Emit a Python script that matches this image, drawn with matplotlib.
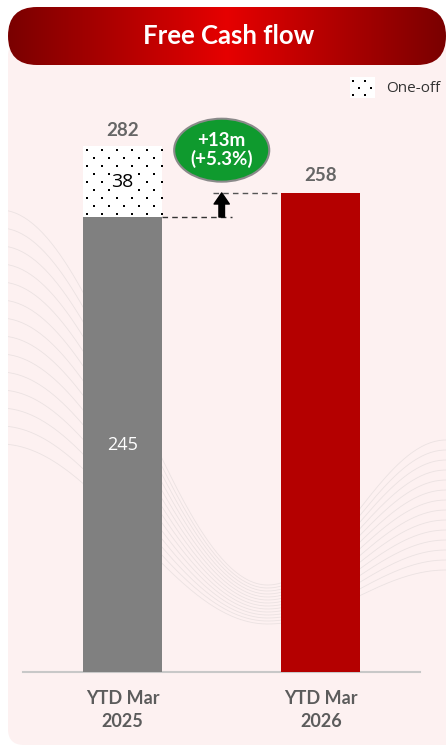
import numpy as np
import matplotlib.pyplot as plt
from matplotlib.patches import FancyBboxPatch, Rectangle, Ellipse
from matplotlib.colors import LinearSegmentedColormap

# chart data
categories = ["YTD Mar\n2025", "YTD Mar\n2026"]
base_values = [245, 258]
one_off_values = [38, 0]
totals = [282, 258]
delta_label = "+13m\n(+5.3%)"
title = "Free Cash flow"
legend_label = "One-off"

W, H = 446, 747
fig = plt.figure(figsize=(W / 100, H / 100), dpi=100)
fig.patch.set_facecolor("white")

# background layer in pixel units (y down)
bg = fig.add_axes([0, 0, 1, 1])
bg.set_xlim(0, W)
bg.set_ylim(H, 0)
bg.axis("off")

panel = FancyBboxPatch((8, 40), 470, 705, boxstyle="round,pad=0,rounding_size=16",
                       fc="#fdf1f1", ec="none", zorder=0)
bg.add_patch(panel)

# faint decorative swirl lines in the background
t = np.linspace(0, 1, 200)
for k in range(14):
    y0 = 210 + k * 18
    ymid = 585 + k * 3
    y1 = 440 + k * 10
    left = ymid + (y0 - ymid) * np.cos(np.pi / 2 * np.clip(t / 0.6, 0, 1)) ** 2
    right = ymid + (y1 - ymid) * np.sin(np.pi / 2 * np.clip((t - 0.6) / 0.4, 0, 1)) ** 2
    yy = np.where(t < 0.6, left, right)
    ln, = bg.plot(t * W, yy, color="#ebe2e2", lw=0.6, zorder=0.5)
    ln.set_clip_path(panel)

# title banner with red gradient
banner = FancyBboxPatch((8, 7), 438, 58, boxstyle="round,pad=0,rounding_size=29",
                        fc="none", ec="none", zorder=1)
bg.add_patch(banner)
cmap = LinearSegmentedColormap.from_list("vf", ["#7a0000", "#e60000", "#7a0000"])
grad = np.linspace(0, 1, 256).reshape(1, -1)
img = bg.imshow(grad, cmap=cmap, extent=(8, 446, 65, 7), aspect="auto", zorder=2)
img.set_clip_path(banner)
bg.set_xlim(0, W)
bg.set_ylim(H, 0)
bg.text(229, 36, title, color="white", fontsize=18.5, fontweight="bold",
        family="Lato", ha="center", va="center", zorder=3)

# baseline
bg.plot([23, 420], [672, 672], color="#c8c8c8", lw=1.5, zorder=1)


def dot_fill(target, clip, x0, y0, w, h, dx=15, dy=8):
    # dotted texture given in pixel coords, drawn on target, clipped to patch
    xs, ys = [], []
    for k, yy in enumerate(np.arange(y0 + dy / 2, y0 + h, dy)):
        start = x0 + (dx / 4 if k % 2 == 0 else dx * 3 / 4)
        for xx in np.arange(start, x0 + w, dx):
            xs.append(xx)
            ys.append(yy)
    sc = target.scatter(xs, ys, s=3, marker="s", color="black", lw=0, zorder=6,
                        transform=bg.transData)
    sc.set_clip_path(clip)


# bar layer
ax = fig.add_axes([0, 75 / H, 1, 600 / H])
ax.patch.set_alpha(0)
ax.set_xlim(-0.617, 1.63)
ax.set_ylim(0, 600 / 1.857)
for s in ax.spines.values():
    s.set_visible(False)
ax.set_yticks([])

x = np.arange(len(categories))
bw = 0.398
ax.bar(x, base_values, width=bw, color=["#808080", "#b40000"], zorder=2)
oneoff = ax.bar(x, one_off_values, bottom=base_values, width=bw, color="white",
                lw=0, zorder=2)

# dots on the one-off segment, placed from its display extent
for p in oneoff.patches:
    if p.get_height() <= 0:
        continue
    (dx0, dy0), (dx1, dy1) = ax.transData.transform(
        [(p.get_x(), p.get_y()), (p.get_x() + p.get_width(), p.get_y() + p.get_height())])
    dot_fill(ax, p, dx0, H - dy1, dx1 - dx0, dy1 - dy0)

ax.set_xticks(x)
ax.set_xticklabels(categories, fontsize=13, fontweight="bold", color="#5c5c5c",
                   family="Lato", linespacing=1.4)
ax.tick_params(axis="x", length=0, pad=13)

for i in x:
    ax.annotate(str(totals[i]), (i, totals[i]), xytext=(0, 12.5), textcoords="offset points",
                ha="center", va="center", fontsize=13.5, fontweight="bold",
                color="#666666", family="Lato")
ax.text(0, base_values[0] / 2, str(base_values[0]), ha="center", va="center",
        fontsize=13, color="white", family="Open Sans")
ax.text(0, base_values[0] + one_off_values[0] / 2, str(one_off_values[0]), ha="center",
        va="center", fontsize=14, color="black", family="Open Sans", zorder=7,
        bbox=dict(fc="white", ec="none", pad=0.5))

# bridge between the two bars
ax.plot([bw / 2, 0.552], [base_values[0]] * 2, ls=(0, (4, 3)), color="#333333", lw=1, zorder=1)
ax.plot([0.456, 1 - bw / 2], [base_values[1]] * 2, ls=(0, (4, 3)), color="#555555", lw=1, zorder=1)
ax.annotate("", xy=(0.5, base_values[1]), xytext=(0.5, base_values[0]),
            arrowprops=dict(width=4, headwidth=11, headlength=8, color="black", shrink=0))

ax.add_patch(Ellipse((0.5, 281), 0.479, 33.9, fc="#0f9a2e", ec="#8a8a8a", lw=1.5, zorder=3))
ax.text(0.5, 281, delta_label, ha="center", va="center", fontsize=13.5, fontweight="bold",
        color="white", family="Lato", linespacing=1.1, zorder=4)

# legend
key = Rectangle((350, 77), 25, 21, fc="white", ec="none", zorder=5)
bg.add_patch(key)
dot_fill(bg, key, 350, 77, 25, 21, dx=12, dy=7)
bg.text(386, 88, legend_label, ha="left", va="center", fontsize=11,
        family="Open Sans", color="#333333")

fig.savefig("out.png", dpi=100)
